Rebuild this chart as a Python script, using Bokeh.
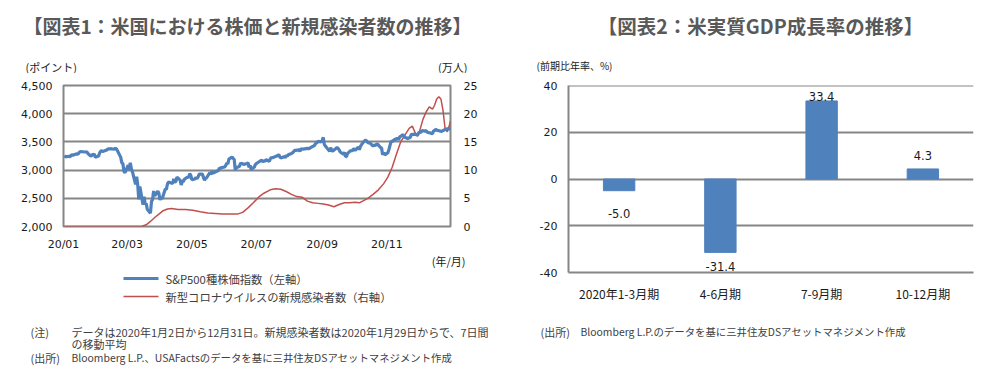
from datetime import datetime
from bokeh.plotting import figure
from bokeh.models import (Range1d, LinearAxis, FixedTicker, NumeralTickFormatter,
                          DatetimeTickFormatter, PrintfTickFormatter, Label, FactorRange, Span)
from bokeh.layouts import row, column
from bokeh.core.properties import value
from bokeh.embed import file_html
from bokeh.resources import INLINE

# ---------------- data ----------------
sp_dates = [
    "01-02","01-03","01-06","01-07","01-08","01-09","01-10","01-13","01-14","01-15","01-16","01-17","01-21","01-22","01-23","01-24","01-27","01-28","01-29","01-30","01-31",
    "02-03","02-04","02-05","02-06","02-07","02-10","02-11","02-12","02-13","02-14","02-18","02-19","02-20","02-21","02-24","02-25","02-26","02-27","02-28",
    "03-02","03-03","03-04","03-05","03-06","03-09","03-10","03-11","03-12","03-13","03-16","03-17","03-18","03-19","03-20","03-23","03-24","03-25","03-26","03-27","03-30","03-31",
    "04-01","04-02","04-03","04-06","04-07","04-08","04-09","04-13","04-14","04-15","04-16","04-17","04-20","04-21","04-22","04-23","04-24","04-27","04-28","04-29","04-30",
    "05-01","05-04","05-05","05-06","05-07","05-08","05-11","05-12","05-13","05-14","05-15","05-18","05-19","05-20","05-21","05-22","05-26","05-27","05-28","05-29",
    "06-01","06-02","06-03","06-04","06-05","06-08","06-09","06-10","06-11","06-12","06-15","06-16","06-17","06-18","06-19","06-22","06-23","06-24","06-25","06-26","06-29","06-30",
    "07-01","07-02","07-06","07-07","07-08","07-09","07-10","07-13","07-14","07-15","07-16","07-17","07-20","07-21","07-22","07-23","07-24","07-27","07-28","07-29","07-30","07-31",
    "08-03","08-04","08-05","08-06","08-07","08-10","08-11","08-12","08-13","08-14","08-17","08-18","08-19","08-20","08-21","08-24","08-25","08-26","08-27","08-28","08-31",
    "09-01","09-02","09-03","09-04","09-08","09-09","09-10","09-11","09-14","09-15","09-16","09-17","09-18","09-21","09-22","09-23","09-24","09-25","09-28","09-29","09-30",
    "10-01","10-02","10-05","10-06","10-07","10-08","10-09","10-12","10-13","10-14","10-15","10-16","10-19","10-20","10-21","10-22","10-23","10-26","10-27","10-28","10-29","10-30",
    "11-02","11-03","11-04","11-05","11-06","11-09","11-10","11-11","11-12","11-13","11-16","11-17","11-18","11-19","11-20","11-23","11-24","11-25","11-27","11-30",
    "12-01","12-02","12-03","12-04","12-07","12-08","12-09","12-10","12-11","12-14","12-15","12-16","12-17","12-18","12-21","12-22","12-23","12-24","12-28","12-29","12-30","12-31",
]
sp_close = [
    3258,3235,3246,3237,3253,3275,3265,3288,3283,3289,3317,3330,3321,3321,3326,3295,3244,3276,3273,3284,3226,
    3249,3298,3334,3345,3328,3352,3358,3379,3374,3380,3370,3386,3373,3338,3226,3128,3116,2979,2954,
    3090,3003,3130,3024,2972,2746,2882,2741,2481,2711,2386,2529,2398,2409,2305,2237,2447,2476,2630,2541,2627,2585,
    2470,2527,2489,2664,2659,2750,2790,2762,2846,2784,2800,2875,2823,2737,2799,2798,2837,2878,2863,2939,2912,
    2831,2842,2868,2848,2881,2930,2930,2870,2820,2852,2864,2954,2922,2972,2949,2955,2992,3036,3029,3044,
    3056,3081,3123,3112,3194,3232,3207,3190,3002,3041,3067,3125,3113,3115,3098,3118,3131,3050,3084,3009,3053,3100,
    3116,3130,3179,3145,3170,3152,3185,3155,3197,3227,3216,3225,3251,3257,3276,3236,3216,3239,3218,3258,3246,3271,
    3295,3306,3327,3349,3351,3360,3333,3380,3373,3373,3381,3390,3375,3385,3397,3431,3443,3479,3484,3508,3500,
    3527,3580,3455,3427,3332,3399,3339,3341,3383,3401,3385,3357,3320,3281,3315,3237,3246,3298,3351,3335,3363,
    3380,3348,3408,3361,3419,3447,3477,3535,3512,3489,3483,3484,3427,3443,3436,3453,3465,3401,3391,3271,3310,3270,
    3310,3370,3443,3510,3509,3550,3545,3573,3537,3585,3627,3610,3568,3582,3558,3578,3635,3630,3638,3622,
    3662,3669,3666,3699,3692,3702,3673,3668,3663,3647,3695,3701,3722,3709,3694,3687,3690,3703,3735,3727,3732,3756,
]

case_dates = ["01-02","01-29","03-01","03-10","03-15","03-19","03-23","03-27","03-31","04-04","04-08","04-12",
              "04-18","04-25","05-02","05-09","05-16","05-23","05-30","06-06","06-13","06-18","06-23","06-28",
              "07-03","07-08","07-14","07-19","07-24","07-29","08-03","08-08","08-13","08-18","08-23","08-28",
              "09-02","09-07","09-12","09-17","09-22","09-27","10-02","10-06","10-10","10-14","10-19","10-24",
              "10-29","11-02","11-06","11-10","11-14","11-18","11-22","11-25","11-28","11-30","12-02","12-05",
              "12-08","12-11","12-14","12-16","12-18","12-20","12-22","12-24","12-26","12-28","12-30","12-31"]
case_values = [0,0,0,0.01,0.05,0.3,0.9,1.6,2.2,2.8,3.1,3.2,
               3.0,3.0,2.9,2.6,2.4,2.3,2.2,2.2,2.2,2.5,3.3,4.2,
               5.2,5.9,6.5,6.7,6.6,6.2,5.7,5.3,5.2,4.5,4.2,4.1,
               4.0,3.8,3.5,3.9,4.2,4.2,4.3,4.2,4.6,5.0,5.7,6.5,
               7.6,8.8,10.5,12.8,15.0,16.2,17.4,17.8,16.5,16.0,17.0,19.0,
               20.3,21.2,20.8,21.5,22.6,23.0,22.6,20.5,17.2,16.8,18.0,18.7]

sp_ticks = [2000, 2500, 3000, 3500, 4000, 4500]
case_ticks = [0, 5, 10, 15, 20, 25]
month_ticks = ["01-01", "03-01", "05-01", "07-01", "09-01", "11-01"]

gdp_quarters = ["2020年1-3月期", "4-6月期", "7-9月期", "10-12月期"]
gdp_growth = [-5.0, -31.4, 33.4, 4.3]
gdp_ticks = [-40, -20, 0, 20, 40]

# ---------------- helpers ----------------
EPOCH = datetime(1970, 1, 1)


def to_ms(md):
    m, d = md.split("-")
    return (datetime(2020, int(m), int(d)) - EPOCH).total_seconds() * 1000.0


JP = "Noto Sans CJK JP"
NUM = "DejaVu Sans"
GRID = "#868686"
TXT = "#404040"
DARK = "#1a1a1a"
TITLE = "#595959"
BLUE = "#4F81BD"
RED = "#C0504D"


def text_fig(w, h):
    """A blank figure whose frame is the whole canvas, y measured downward in px."""
    f = figure(width=w, height=h, x_range=Range1d(0, w), y_range=Range1d(h, 0),
               x_axis_location=None, y_axis_location=None, output_backend="svg",
               toolbar_location=None, min_border=0)
    f.outline_line_color = None
    f.grid.visible = False
    f.background_fill_color = "white"
    f.border_fill_color = "white"
    return f


def put(f, x, y, text, size="11px", align="left", font=JP, color=TXT, style="normal"):
    f.add_layout(Label(x=x, y=y, text=text, text_font=font, text_font_size=size,
                       text_align=align, text_baseline="middle", text_color=color,
                       text_font_style=style))


# ---------------- left panel ----------------
WL = 498
TOP_H = 73
P1_H = 180
BOT1_H = 120
F1L, F1R = 63, 450          # frame left/right in canvas px
F1T_B, F1B_B = 12, 23        # top / bottom borders

X0 = to_ms("01-01")
X1 = to_ms("12-31")

top1 = text_fig(WL, TOP_H)
put(top1, 247, 25, "【図表1：米国における株価と新規感染者数の推移】", size="19px",
    align="center", color=TITLE, style="bold")
put(top1, 25, 66, "(ポイント)", color=DARK)
put(top1, 467, 66, "(万人)", align="right", color=DARK)

p1 = figure(width=WL, height=P1_H, x_axis_type="datetime", output_backend="svg",
            toolbar_location=None, x_range=Range1d(X0, X1),
            y_range=Range1d(sp_ticks[0], sp_ticks[-1]),
            min_border_left=F1L, min_border_right=WL - F1R,
            min_border_top=F1T_B, min_border_bottom=F1B_B)
p1.extra_y_ranges = {"cases": Range1d(case_ticks[0], case_ticks[-1])}
p1.background_fill_color = "white"
p1.border_fill_color = "white"
p1.outline_line_color = GRID
p1.outline_line_width = 2
p1.xgrid.visible = False
p1.ygrid.ticker = FixedTicker(ticks=sp_ticks)
p1.ygrid.grid_line_color = GRID
p1.ygrid.grid_line_width = 2

sp_x = [to_ms(d) for d in sp_dates]
case_x = [to_ms(d) for d in case_dates]
p1.line(case_x, case_values, y_range_name="cases", line_color=RED, line_width=1.5)
p1.line(sp_x, sp_close, line_color=BLUE, line_width=3.2)

ax = p1.yaxis[0]
ax.ticker = FixedTicker(ticks=sp_ticks)
ax.formatter = NumeralTickFormatter(format="0,0")
right = LinearAxis(y_range_name="cases", ticker=FixedTicker(ticks=case_ticks))
p1.add_layout(right, "right")
xa = p1.xaxis[0]
xa.ticker = FixedTicker(ticks=[to_ms(d) for d in month_ticks])
xa.formatter = DatetimeTickFormatter(days="%y/%m", months="%y/%m", years="%y/%m")
for a in (ax, right, xa):
    a.axis_line_color = None
    a.major_tick_line_color = None
    a.minor_tick_line_color = None
    a.major_tick_in = 0
    a.major_tick_out = 0
    a.major_label_text_font = NUM
    a.major_label_text_font_size = "11px"
    a.major_label_text_color = DARK
ax.major_label_standoff = 11
right.major_label_standoff = 13
xa.major_label_standoff = 11

bot1 = text_fig(WL, BOT1_H)
put(bot1, 465, 7, "(年/月)", align="right", color=DARK)
# legend (drawn manually below the chart)
leg_x = [123, 158]
bot1.line(leg_x, [25, 25], line_color=BLUE, line_width=3.2)
bot1.line(leg_x, [43, 43], line_color=RED, line_width=1.5)
put(bot1, 165, 25, "S&P500種株価指数（左軸）", size="11.3px")
put(bot1, 165, 43, "新型コロナウイルスの新規感染者数（右軸）", size="11.3px")
put(bot1, 30, 78, "(注)")
put(bot1, 71, 78, "データは2020年1月2日から12月31日。新規感染者数は2020年1月29日からで、7日間")
put(bot1, 71, 90, "の移動平均")
put(bot1, 30, 104, "(出所)")
put(bot1, 71, 104, "Bloomberg L.P.、USAFactsのデータを基に三井住友DSアセットマネジメント作成",
    size="10.4px")

# ---------------- right panel ----------------
WR = 496
P2_H = 232
BOT2_H = 68
F2L, F2R = 70, 475
F2T_B, F2B_B = 12, 33
PPU = (P2_H - F2T_B - F2B_B) / (gdp_ticks[-1] - gdp_ticks[0])

top2 = text_fig(WR, TOP_H)
put(top2, 262, 25, "【図表2：米実質GDP成長率の推移】", size="19.5px", align="center",
    color=TITLE, style="bold")
put(top2, 38, 65, "(前期比年率、%)", size="10px", color=DARK)

p2 = figure(width=WR, height=P2_H, x_range=FactorRange(*gdp_quarters),
            y_range=Range1d(gdp_ticks[0], gdp_ticks[-1]), output_backend="svg",
            toolbar_location=None, min_border_left=F2L, min_border_right=WR - F2R,
            min_border_top=F2T_B, min_border_bottom=F2B_B)
p2.background_fill_color = "white"
p2.border_fill_color = "white"
p2.outline_line_color = None
p2.xgrid.visible = False
p2.ygrid.ticker = FixedTicker(ticks=gdp_ticks[1:-1])
p2.ygrid.grid_line_color = GRID
p2.ygrid.grid_line_width = 2
p2.add_layout(Span(location=gdp_ticks[-1], dimension="width", line_color=GRID, line_width=2))

p2.vbar(x=gdp_quarters, top=gdp_growth, width=0.31, fill_color=BLUE, line_color=BLUE)

# data-label baseline offsets in px from the bar end (positive = upward)
label_off_px = [-23, -14.5, 4, 13]
label_y = [v + o / PPU for v, o in zip(gdp_growth, label_off_px)]
p2.text(x=gdp_quarters, y=label_y, text=[f"{v:.1f}" for v in gdp_growth],
        text_font=value(NUM), text_font_size="11.5px", text_align="center",
        text_baseline="alphabetic", text_color=DARK)

ya = p2.yaxis[0]
ya.ticker = FixedTicker(ticks=gdp_ticks)
ya.formatter = PrintfTickFormatter(format="%d")
xb = p2.xaxis[0]
for a in (ya, xb):
    a.axis_line_color = GRID
    a.axis_line_width = 2
    a.major_tick_line_color = None
    a.minor_tick_line_color = None
    a.major_tick_in = 0
    a.major_tick_out = 0
    a.major_label_text_color = DARK
ya.major_label_standoff = 11
ya.major_label_text_font = NUM
ya.major_label_text_font_size = "11px"
xb.major_label_standoff = 12
xb.major_label_text_font = JP
xb.major_label_text_font_size = "12px"

bot2 = text_fig(WR, BOT2_H)
put(bot2, 42, 26, "(出所)")
put(bot2, 82, 26, "Bloomberg L.P.のデータを基に三井住友DSアセットマネジメント作成", size="10.4px")

# each chart is wrapped in its own row so the text strips keep full-width frames
layout = row(column(top1, row(p1), bot1), column(top2, row(p2), bot2))
open("out.html", "w").write(file_html(layout, INLINE))
